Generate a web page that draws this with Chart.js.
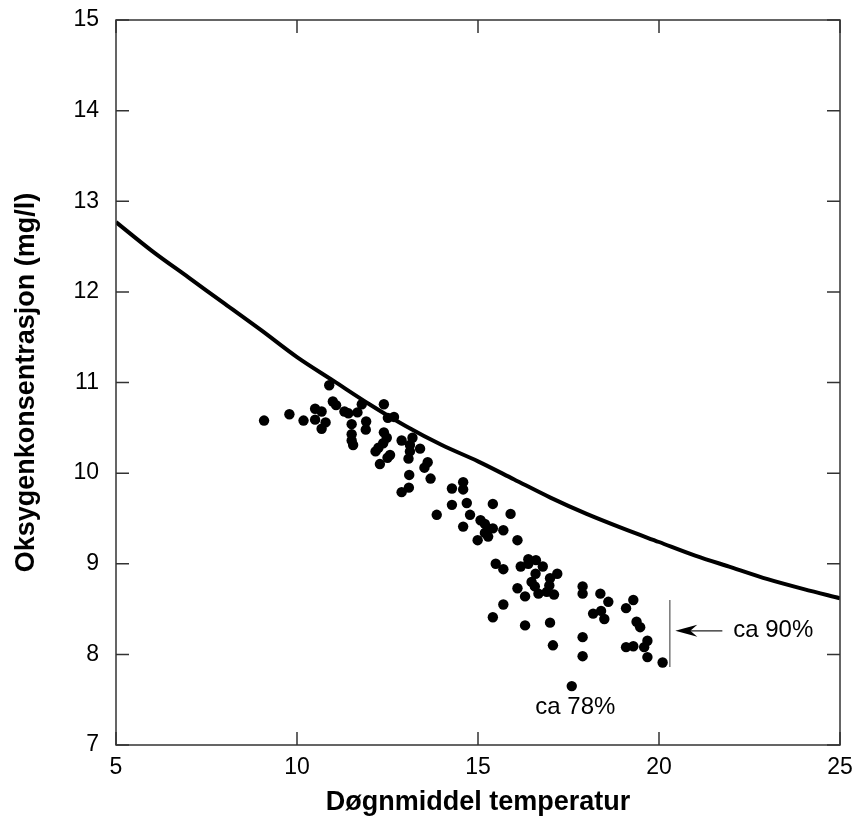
<!DOCTYPE html>
<html>
<head>
<meta charset="utf-8">
<script src="https://cdn.jsdelivr.net/npm/chart.js@4.4.0/dist/chart.umd.min.js"></script>
<style>
body{margin:0;background:#fff;}
canvas{display:block;}
</style>
</head>
<body>
<canvas id="chart" width="854" height="825"></canvas>
<script>

// metningskurve
let curveTemp=[5,6,7,8,9,10,11,12,13,14,15,16,17,18,19,20,21,22,23,24,25];
let curveOxy=[12.77,12.45,12.16,11.87,11.58,11.28,11.02,10.76,10.52,10.31,10.13,9.93,9.73,9.55,9.39,9.24,9.09,8.96,8.83,8.72,8.62];

// målinger
let measTemp=[9.09,9.79,10.18,10.50,10.68,10.50,10.79,10.68,10.89,10.99,11.08,11.31,11.42,11.79,11.67,11.51,11.51,11.51,11.55,11.91,11.90,
12.40,12.51,12.68,12.40,12.48,12.38,12.25,12.17,12.57,12.50,12.29,12.89,13.19,13.12,13.40,13.12,13.08,13.61,13.52,13.69,13.10,13.09,12.89,13.86,
14.28,14.59,14.59,14.28,14.69,14.78,15.41,15.90,14.59,15.07,15.19,15.28,15.41,15.19,15.28,14.99,15.70,16.09,15.49,15.70,
16.39,16.60,16.18,16.79,16.39,17.19,16.59,16.99,16.48,16.97,16.09,16.57,16.67,16.90,17.10,16.30,17.89,17.89,18.38,15.70,15.41,16.30,16.99,18.18,17.89,
18.60,18.40,18.49,19.29,19.09,19.38,19.48,17.89,19.09,19.29,19.68,19.59,19.68,20.10,17.59,17.07];
let measOxy=[10.58,10.65,10.58,10.71,10.68,10.59,10.56,10.49,10.97,10.79,10.75,10.68,10.66,10.76,10.67,10.54,10.43,10.36,10.31,10.57,10.48,
10.76,10.61,10.62,10.45,10.39,10.33,10.28,10.24,10.20,10.17,10.10,10.36,10.39,10.31,10.27,10.24,10.16,10.12,10.06,9.94,9.98,9.84,9.79,9.54,
9.83,9.90,9.82,9.65,9.67,9.54,9.66,9.55,9.41,9.48,9.44,9.39,9.39,9.34,9.30,9.26,9.37,9.26,9.00,8.94,
9.05,9.04,8.97,8.97,9.00,8.89,8.89,8.84,8.80,8.76,8.73,8.75,8.67,8.69,8.66,8.64,8.75,8.67,8.67,8.55,8.41,8.32,8.35,8.45,8.19,
8.58,8.48,8.39,8.60,8.51,8.36,8.30,7.98,8.08,8.09,8.15,8.08,7.97,7.91,7.65,8.10];

let xTicks=[5,10,15,20,25];
let yTicks=[7,8,9,10,11,12,13,14,15];

// merknader (i dataenheter)
let bracketX=20.3;
let bracketY=[8.60,7.86];
let arrowY=8.26;
let arrowX=[21.75,20.45];
let label90="ca 90%";
let label90Pos=[22.05,8.26];
let label78="ca 78%";
let label78Pos=[17.69,7.42];

let measPoints=measTemp.map((t,i)=>({x:t,y:measOxy[i]}));
let curvePoints=curveTemp.map((t,i)=>({x:t,y:curveOxy[i]}));

const fontFam="Arial, 'Liberation Sans', sans-serif";

const frame={
id:"frame",
afterDraw(chart){
const ctx=chart.ctx;
const a=chart.chartArea;
const xs=chart.scales.x;
const ys=chart.scales.y;
const tl=13;
ctx.save();
ctx.strokeStyle="#333";
ctx.lineWidth=1.5;
ctx.strokeRect(a.left,a.top,a.right-a.left,a.bottom-a.top);
ctx.beginPath();
xTicks.forEach(v=>{
const px=xs.getPixelForValue(v);
ctx.moveTo(px,a.bottom);ctx.lineTo(px,a.bottom-tl);
ctx.moveTo(px,a.top);ctx.lineTo(px,a.top+tl);
});
yTicks.forEach(v=>{
const py=ys.getPixelForValue(v);
ctx.moveTo(a.left,py);ctx.lineTo(a.left+tl,py);
ctx.moveTo(a.right,py);ctx.lineTo(a.right-tl,py);
});
ctx.stroke();

// klamme
ctx.strokeStyle="#555";
ctx.lineWidth=1.2;
ctx.beginPath();
ctx.moveTo(xs.getPixelForValue(bracketX),ys.getPixelForValue(bracketY[0]));
ctx.lineTo(xs.getPixelForValue(bracketX),ys.getPixelForValue(bracketY[1]));
ctx.stroke();

// pil
const ay=ys.getPixelForValue(arrowY);
const x0=xs.getPixelForValue(arrowX[0]);
const x1=xs.getPixelForValue(arrowX[1]);
ctx.strokeStyle="#222";
ctx.fillStyle="#000";
ctx.lineWidth=1.2;
ctx.beginPath();
ctx.moveTo(x0,ay);ctx.lineTo(x1+6,ay);
ctx.stroke();
ctx.beginPath();
ctx.moveTo(x1,ay);
ctx.lineTo(x1+22,ay-6);
ctx.lineTo(x1+15,ay);
ctx.lineTo(x1+22,ay+6);
ctx.closePath();
ctx.fill();

ctx.font="24px "+fontFam;
ctx.fillStyle="#000";
ctx.textBaseline="middle";
ctx.textAlign="left";
ctx.fillText(label90,xs.getPixelForValue(label90Pos[0]),ys.getPixelForValue(label90Pos[1]));
ctx.textAlign="center";
ctx.fillText(label78,xs.getPixelForValue(label78Pos[0]),ys.getPixelForValue(label78Pos[1]));
ctx.restore();
}
};

new Chart(document.getElementById("chart"),{

type:"scatter",

data:{
datasets:[
{
data:measPoints,
backgroundColor:"#000",
borderWidth:0,
pointRadius:5.2,
pointHoverRadius:5.2
},
{
data:curvePoints,
showLine:true,
borderColor:"#000",
borderWidth:4,
pointRadius:0,
tension:0.4,
cubicInterpolationMode:"monotone"
}
]
},

options:{
responsive:false,
animation:false,
layout:{padding:{top:20,right:14,left:0,bottom:0}},
plugins:{legend:{display:false},tooltip:{enabled:false}},
scales:{
x:{
type:"linear",
min:5,max:25,
afterFit(s){s.height=80;s.paddingLeft=0;s.paddingRight=0;},
afterBuildTicks(s){s.ticks=xTicks.map(v=>({value:v}));},
grid:{display:false,drawTicks:false,tickLength:0},
border:{display:false},
ticks:{color:"#000",padding:9,font:{family:fontFam,size:23}},
title:{display:true,text:"Døgnmiddel temperatur",color:"#000",padding:{top:0,bottom:6},font:{family:fontFam,size:27,weight:"bold"}}
},
y:{
type:"linear",
min:7,max:15,
afterFit(s){s.width=116;s.paddingTop=0;s.paddingBottom=0;},
afterBuildTicks(s){s.ticks=yTicks.map(v=>({value:v}));},
grid:{display:false,drawTicks:false,tickLength:0},
border:{display:false},
ticks:{color:"#000",padding:17,font:{family:fontFam,size:23}},
title:{display:true,text:"Oksygenkonsentrasjon (mg/l)",color:"#000",padding:{top:10,bottom:0},font:{family:fontFam,size:27,weight:"bold"}}
}
}
},

plugins:[frame]

});

</script>
</body>
</html>
